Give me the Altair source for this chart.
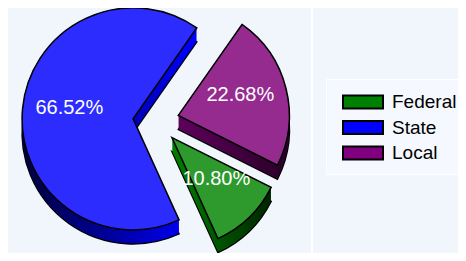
import altair as alt
import pandas as pd

categories = ["Local", "Federal", "State"]
values = [22.68, 10.80, 66.52]
labels = ["22.68%", "10.80%", "66.52%"]
order_idx = [0, 1, 2]

legend_domain = ["Federal", "State", "Local"]
legend_colors = ["#008000", "#0000ff", "#800080"]
top_colors = {"Federal": "#2e9a2e", "State": "#2c2cff", "Local": "#952b8f"}
side_grad = {
    "State": ["#00003a", "#0000ff"],
    "Federal": ["#008000", "#002400"],
    "Local": ["#5e005c", "#280026"],
}

df = pd.DataFrame({"cat": categories, "value": values, "label": labels, "idx": order_idx})

CX, CY = 148, 113
EXPLODE = 23
R = 111
DEPTH = 14
START = 0.611
LR = 64

base = (
    alt.Chart(df)
    .transform_joinaggregate(total="sum(value)")
    .transform_window(cum="sum(value)", sort=[alt.SortField("idx")], frame=[None, 0])
    .transform_calculate(
        t1=f"{START} + 2*PI*datum.cum/datum.total",
    )
    .transform_calculate(t0="datum.t1 - 2*PI*datum.value/datum.total")
    .transform_calculate(mid="(datum.t0 + datum.t1)/2")
    .transform_calculate(
        px=f"{CX} + {EXPLODE}*sin(datum.mid)",
        py=f"{CY} - {EXPLODE}*cos(datum.mid)",
    )
)

theta = alt.Theta("t0:Q", scale=None)
theta2 = alt.Theta2("t1:Q")
xenc = alt.X("px:Q", scale=None, axis=None)

divider = alt.Chart(df).mark_rule(color="white", strokeWidth=2).encode(
    x=alt.value(304), y=alt.value(0), y2=alt.value(245)
)

deep = (
    base.transform_calculate(pyd=f"datum.py + {DEPTH}")
    .mark_arc(radius=R, stroke="black", strokeWidth=1.5)
    .encode(
        theta=theta,
        theta2=theta2,
        x=xenc,
        y=alt.Y("pyd:Q", scale=None, axis=None),
        color=alt.Color(
            "cat:N",
            scale=alt.Scale(domain=legend_domain, range=legend_colors),
            legend=alt.Legend(
                title=None,
                orient="none",
                legendX=318,
                legendY=71,
                padding=10,
                strokeColor="white",
                fillColor="#f5f8fe",
                symbolType="M-1.667,-0.55H1.667V0.55H-1.667Z",
                symbolSize=576,
                symbolOffset=14,
                symbolStrokeColor="black",
                symbolStrokeWidth=2,
                symbolOpacity=1,
                labelFont="Liberation Sans",
                labelFontSize=19,
                labelColor="black",
                labelOffset=16,
                rowPadding=1.5,
            ),
        ),
    )
)

sides = []
for c in categories:
    g = side_grad[c]
    sides.append(
        base.transform_filter(alt.datum.cat == c)
        .transform_calculate(ds=f"sequence(0, {DEPTH})")
        .transform_flatten(["ds"])
        .transform_calculate(pys="datum.py + datum.ds")
        .mark_arc(
            radius=R,
            color=alt.LinearGradient(
                gradient="linear",
                stops=[alt.GradientStop(offset=0, color=g[0]), alt.GradientStop(offset=1, color=g[1])],
                x1=0, x2=1, y1=0, y2=0,
            ),
        )
        .encode(theta=theta, theta2=theta2, x=xenc, y=alt.Y("pys:Q", scale=None, axis=None))
    )

top = base.mark_arc(radius=R, stroke="black", strokeWidth=1.5).encode(
    theta=theta,
    theta2=theta2,
    x=xenc,
    y=alt.Y("py:Q", scale=None, axis=None),
    fill=alt.Fill(
        "cat:N",
        scale=alt.Scale(domain=list(top_colors.keys()), range=list(top_colors.values())),
        legend=None,
    ),
)

text = (
    base.transform_calculate(
        lx=f"datum.px + {LR}*sin(datum.mid)",
        ly=f"datum.py - {LR}*cos(datum.mid) - 5",
    )
    .mark_text(color="white", font="Liberation Sans", fontSize=20, align="center", baseline="middle")
    .encode(
        x=alt.X("lx:Q", scale=None, axis=None),
        y=alt.Y("ly:Q", scale=None, axis=None),
        text="label:N",
    )
)

chart = (
    alt.layer(divider, deep, *sides, top, text)
    .resolve_scale(color="independent", fill="independent")
    .properties(
        width=450,
        height=245,
        background="#f1f5fc",
        padding=0,
        autosize=alt.AutoSizeParams(type="none"),
    )
    .configure_view(stroke=None)
)

chart.save("out.html", embed_options={"renderer": "svg", "actions": False})
